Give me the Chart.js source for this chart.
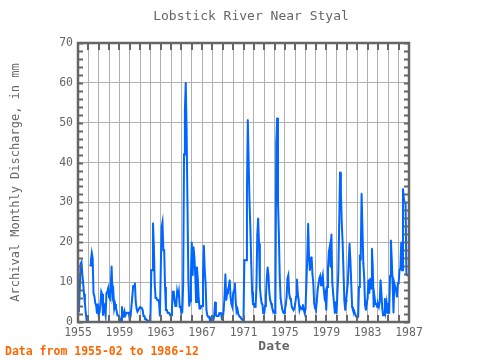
<!DOCTYPE html>
<html><head><meta charset="utf-8">
<script src="https://cdn.jsdelivr.net/npm/chart.js@4/dist/chart.umd.min.js"></script>
<style>html,body{margin:0;padding:0;background:#fff}canvas{display:block}</style>
</head><body>
<canvas id="c" width="480" height="360"></canvas>
<script>
const chartTitle = 'Lobstick River Near Styal';
const yTitle = 'Archival Monthly Discharge, in mm';
const xTitle = 'Date';
const footNote = 'Data from 1955-02 to 1986-12';
const xTickLabels = [1955, 1959, 1963, 1967, 1971, 1975, 1979, 1983, 1987];
const yTickLabels = [0, 10, 20, 30, 40, 50, 60, 70];
const years = [1955,1956,1957,1958,1959,1960,1961,1962,1963,1964,1965,1966,1967,1968,1969,1970,
               1971,1972,1973,1974,1975,1976,1977,1978,1979,1980,1981,1982,1983,1984,1985,1986];
// monthly discharge (mm), Jan..Dec
const q1955 = [null, 2.5, 8, 14.5, 15, 12, 9.7, 7, 4.7, 2.2, 0.5, 0.5];
const q1956 = [0.4, null, 14.2, 15.5, 17.3, 16, 7.2, 6.5, 4.8, 4.2, 2.2, 4.5];
const q1957 = [1.7, 2.5, 4.5, 7.6, 7, 1.7, 4.7, 3, 1.7, 7.2, 7.5, 8.4];
const q1958 = [6.3, 5.9, 9, 14, 6.5, 7.6, 3.4, 4.5, 3.5, 2.5, 1.7, 1.5];
const q1959 = [1.3, 0.5, 0.5, 3.8, 1.3, 1.3, 2.6, 1.7, 2.2, 2.3, 2.3, 2.3];
const q1960 = [0.5, 1.5, 4, 6.3, 9, 9, 9.8, 5, 3.4, 2.6, 3, 3.4];
const q1961 = [3.7, 3.7, 3.5, 3, 1.5, 1.5, 0.7, 0.7, 0.3, 0.3, 0.3, 0.3];
const q1962 = [0.3, 13, 13, 24.8, 19, 9.5, 6, 6, 5.5, 5.5, 5, 1.5];
const q1963 = [13, 23.8, 25, 18, 18, 8.8, 3, 3, 2.3, 2.3, 2.2, 1.7];
const q1964 = [1.7, 3.4, 7.6, 7.6, 5.5, 4, 4, 7.6, 6.3, 7.6, 3.8, 3.8];
const q1965 = [2.2, 2.5, 9.2, 42, 53, 60, 48, 29.7, 10.9, 4, 5.3, 12];
const q1966 = [20, 11.7, 18.8, 16.3, 12, 5, 13.8, 10.7, 6, 3.4, 3.4, 4];
const q1967 = [4, 11.5, 19.2, 13, 9.7, 3, 1.7, 1.3, 1.3, 0.5, 0.5, 1.3];
const q1968 = [1.3, 0.5, 1.5, 5, 1.7, 1.5, 1.5, 1.5, 2.2, 2.2, 2.2, 0.7];
const q1969 = [0.7, 3, 6.3, 12, 5.5, 7.2, 8, 9, 10.5, 6.3, 4.5, 3.8];
const q1970 = [7.2, 8, 9.7, 5, 2.6, 3.2, 2, 1.5, 1.3, 1.3, 0.7, 0.5];
const q1971 = [0.5, 15.5, 15.5, 15.5, 33, 50.7, 39.8, 30, 23.2, 14.7, 7.6, 4.5];
const q1972 = [4.5, 3.8, 3.8, 8.8, 21.8, 26, 19.7, 8.8, 6.3, 4.8, 4.3, 2.2];
const q1973 = [2.2, 4, 6.3, 10.9, 13.7, 11.7, 7.2, 5.5, 4.7, 3.8, 3, 2.6];
const q1974 = [2.2, 2.2, 44.7, 51.2, 30.5, 22.2, 11.7, 6, 4.5, 3.2, 2.5, 2.2];
const q1975 = [3, 4.3, 6.3, 10.9, 11.7, 7.2, 6, 5.5, 3.8, 3.4, 3, 3.4];
const q1976 = [4.5, 6.3, 10.7, 7, 5.5, 3, 3.8, 3.5, 3.2, 4.3, 3, 2.2];
const q1977 = [3.4, 10, 16.3, 24.7, 16.3, 13, 14.7, 16.3, 12, 9.7, 4.7, 3.5];
const q1978 = [3, 5.1, 8, 9.5, 10.9, 11.5, 9.2, 10.5, 11.7, 8.4, 6.3, 7.2];
const q1979 = [3, 8.8, 13.4, 17.6, 18.8, 13.8, 22, 10, 7.2, 4.7, 2.2, 5];
const q1980 = [2.2, 7.6, 12.2, 24.3, 37.6, 32.6, 24.7, 20, 12.6, 5.5, 3, 5.3];
const q1981 = [5.3, 9.7, 14.7, 19.7, 15.5, 9.7, 3.8, 3, 3, 2.3, 1.7, 1.3];
const q1982 = [1.3, 1.3, 8.8, 16.3, 16, 32.2, 23.4, 14.7, 11.3, 4.3, 3, 4.7];
const q1983 = [6, 10.5, 7.2, 10.9, 8.4, 18.4, 13.4, 3.8, 6.3, 4.5, 4.5, 3.8];
const q1984 = [4.5, 3.8, 5.1, 10.5, 7.2, 3.4, 1.7, 1.7, 5.9, 3, 4.7, 2.2];
const q1985 = [4.7, 2.2, 11.5, 20.5, 15.5, 9.7, 2.3, 9.7, 8.8, 8, 6.3, 9.7];
const q1986 = [9.7, 13, 13.4, 20, 13, 33.4, 31, 30, 29.7, 11.9, 11.7, 11.7];
const yearly = [q1955,q1956,q1957,q1958,q1959,q1960,q1961,q1962,q1963,q1964,q1965,q1966,q1967,q1968,q1969,q1970,
                q1971,q1972,q1973,q1974,q1975,q1976,q1977,q1978,q1979,q1980,q1981,q1982,q1983,q1984,q1985,q1986];

const points = [];
years.forEach((yr, i) => {
  yearly[i].forEach((v, m) => {
    if (yr === 1955 && m === 0) return; // data start 1955-02
    points.push({x: yr + m / 12, y: v});
  });
});

const FONT = 'DejaVu Sans Mono';
const GRAY = '#666666';

const decor = {
  id: 'decor',
  afterDatasetsDraw(chart) {
    const {ctx, chartArea: a, scales: {x, y}} = chart;
    ctx.save();
    ctx.strokeStyle = GRAY;
    ctx.lineWidth = 2;
    ctx.beginPath();
    for (let v = 0; v <= 70; v += 2) {
      const py = Math.round(y.getPixelForValue(v)) + 0.5;
      ctx.moveTo(a.left, py); ctx.lineTo(a.left + 5, py);
      ctx.moveTo(a.right, py); ctx.lineTo(a.right - 5, py);
    }
    for (let yr = 1955; yr <= 1987; yr++) {
      const px = Math.round(x.getPixelForValue(yr));
      ctx.moveTo(px, a.top); ctx.lineTo(px, a.top + 7);
      ctx.moveTo(px, a.bottom); ctx.lineTo(px, a.bottom - 7);
    }
    ctx.stroke();
    ctx.lineWidth = 2.5;
    ctx.strokeRect(a.left, a.top, a.right - a.left, a.bottom - a.top);
    // texts
    ctx.fillStyle = GRAY;
    ctx.textAlign = 'center';
    ctx.textBaseline = 'middle';
    ctx.font = '13px "' + FONT + '"';
    ctx.fillText(chartTitle, 251, 17);
    ctx.font = 'bold 13px "' + FONT + '"';
    ctx.fillText(xTitle, 274, 347);
    ctx.fillStyle = '#ff6600';
    ctx.textAlign = 'left';
    ctx.font = 'bold 11.5px "' + FONT + '"';
    ctx.fillText(footNote, 5, 352);
    ctx.restore();
  }
};

new Chart(document.getElementById('c'), {
  type: 'line',
  data: {
    datasets: [{
      data: points,
      borderColor: '#0066ff',
      backgroundColor: '#0066ff',
      borderWidth: 2,
      pointRadius: 0.8,
      pointBorderWidth: 0,
      spanGaps: false,
      tension: 0
    }]
  },
  options: {
    responsive: false,
    animation: false,
    devicePixelRatio: 1,
    layout: {padding: {left: 0, right: 71, top: 43, bottom: 0}},
    plugins: {legend: {display: false}, tooltip: {enabled: false}, title: {display: false}},
    scales: {
      x: {
        type: 'linear', min: 1955, max: 1987,
        afterFit(s) { s.height = 38; },
        grid: {color: '#b0b0b0', lineWidth: 1, drawTicks: false},
        border: {display: false},
        afterBuildTicks(s) { s.ticks = []; for (let yr = 1955; yr <= 1987; yr++) s.ticks.push({value: yr}); },
        ticks: {
          autoSkip: false, maxRotation: 0, padding: 4, color: GRAY,
          font: {family: FONT, size: 11.5},
          callback: v => xTickLabels.includes(v) ? String(v) : ''
        }
      },
      y: {
        min: 0, max: 70,
        afterFit(s) { s.width = 78; },
        grid: {color: '#b0b0b0', lineWidth: 1, drawTicks: false},
        border: {display: false},
        afterBuildTicks(s) { s.ticks = yTickLabels.map(v => ({value: v})); },
        ticks: {padding: 5, color: GRAY, font: {family: FONT, size: 11.5}},
        title: {display: true, text: yTitle, color: GRAY, font: {family: FONT, size: 12}, padding: {top: 9, bottom: 0}}
      }
    }
  },
  plugins: [decor]
});
</script>
</body></html>
